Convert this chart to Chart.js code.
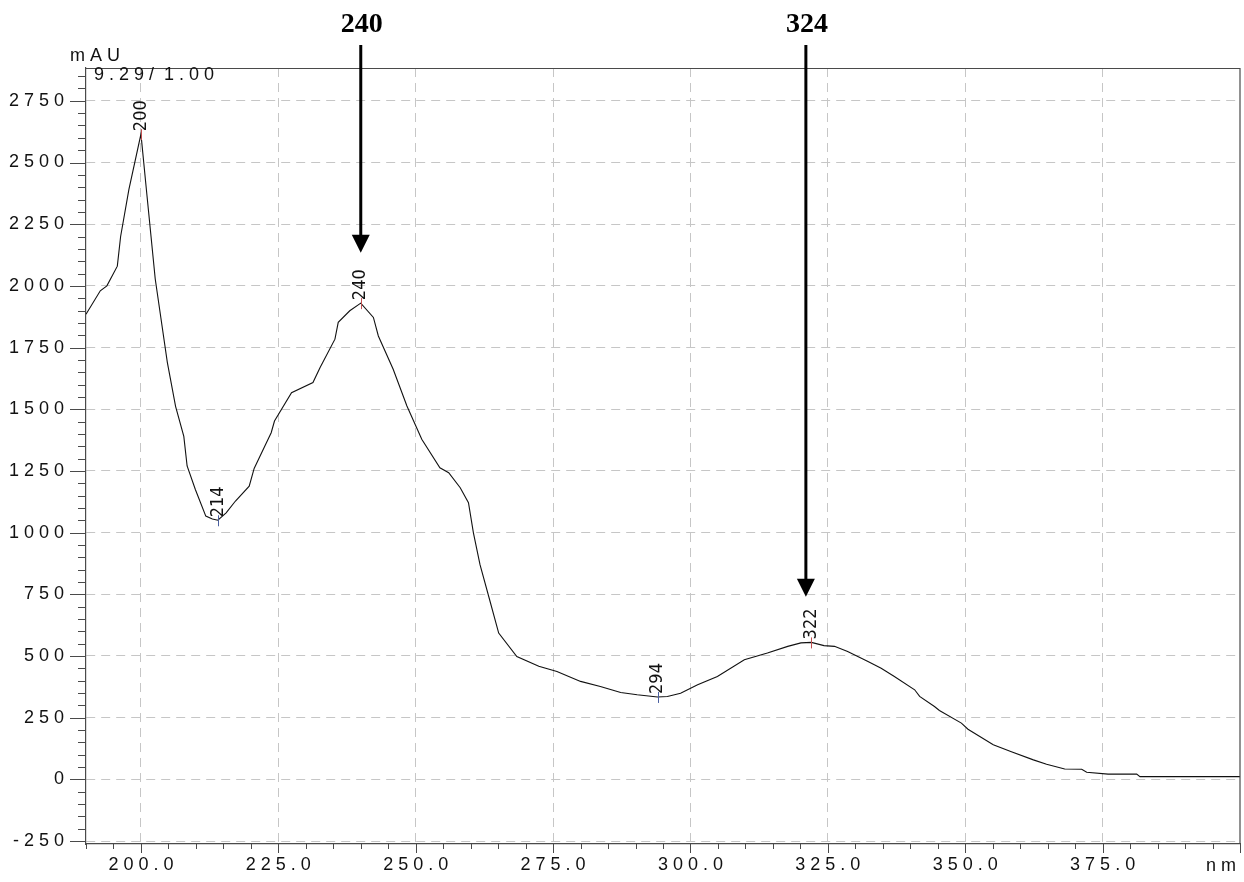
<!DOCTYPE html>
<html>
<head>
<meta charset="utf-8">
<script src="https://cdn.jsdelivr.net/npm/chart.js@4.4.1/dist/chart.umd.min.js"></script>
<style>
  html, body { margin: 0; padding: 0; background: #fff; }
  #wrap { width: 1244px; height: 882px; }
</style>
</head>
<body>
<div id="wrap"><canvas id="spectrum"></canvas></div>
<script>
// UV spectrum (nm / mAU)
var wavelengths = [190, 192.6, 193.8, 195.7, 196.3, 197.8, 200, 201.1, 202.6, 204.8, 206.3, 207.8, 208.4, 209.9,
  211.8, 213, 214, 215.5, 217.2, 219.7, 220.6, 222.7, 223.7, 224.3, 227.4, 231.3, 232.6, 235.3, 235.9, 238,
  240, 242.3, 243.2, 245.9, 248.4, 251.1, 254.4, 256, 258.1, 259.6, 260.5, 261.7, 263.3, 265.1, 268.4, 272.4,
  275.7, 280, 283.6, 287.3, 290.3, 294, 295.8, 298.2, 301.3, 304.9, 309.8, 314, 317.7, 320.1, 322, 324.3,
  326.2, 328.6, 332.3, 334.7, 337.1, 340.8, 341.7, 344.4, 345.3, 349.3, 350.5, 355.1, 358.4, 362.4, 364.8,
  368.1, 371.2, 372.1, 376, 381.2, 381.8, 400];
var absorbance = [1885, 1980, 2000, 2080, 2200, 2390, 2615, 2365, 2028, 1690, 1512, 1390, 1270, 1175,
  1067, 1055, 1050, 1080, 1128, 1188, 1260, 1358, 1405, 1452, 1567, 1608, 1669, 1784, 1852, 1899,
  1930, 1872, 1797, 1662, 1513, 1378, 1263, 1243, 1182, 1121, 999, 870, 740, 593, 498, 458,
  437, 397, 376, 352, 343, 334, 336, 349, 383, 417, 485, 512, 539, 553, 555, 542,
  539, 518, 478, 450, 417, 363, 336, 295, 279, 228, 203, 140, 112, 79, 61,
  42, 41, 29, 21, 21, 11, 11];

// peak / valley marks printed by the software
var markNm = [200, 214, 240, 294, 322];
var markKind = ['max', 'min', 'max', 'min', 'max'];

// arrows added on top of the print-out
var arrowNm = [240, 321];
var arrowLabels = ['240', '324'];
var arrowTips = [2134, 740];

var xMajor = [200, 225, 250, 275, 300, 325, 350, 375];
var yMajor = [-250, 0, 250, 500, 750, 1000, 1250, 1500, 1750, 2000, 2250, 2500, 2750];

function spaced(s) { return s.split('').join(' '); }

var points = wavelengths.map(function (w, i) { return { x: w, y: absorbance[i] }; });

var frameColor = '#4a4a4a';
var gridColor = '#c6c6c6';
var labelFont = '"Liberation Sans", Arial, sans-serif';

var decorations = {
  id: 'decorations',
  afterDatasetsDraw: function (chart) {
    var ctx = chart.ctx, a = chart.chartArea;
    var xs = chart.scales.x, ys = chart.scales.y;
    ctx.save();
    // frame top / right
    ctx.strokeStyle = frameColor;
    ctx.lineWidth = 1.2;
    ctx.beginPath();
    ctx.moveTo(a.left, a.top + 0.5);
    ctx.lineTo(a.right, a.top + 0.5);
    ctx.lineTo(a.right, a.bottom);
    ctx.stroke();

    // axis ticks (major + minor)
    ctx.lineWidth = 1;
    ctx.beginPath();
    for (var v = -250; v <= 2850; v += 50) {
      var py = Math.round(ys.getPixelForValue(v)) + 0.5;
      var len = (v % 250 === 0) ? 16 : 8;
      ctx.moveTo(a.left - len, py);
      ctx.lineTo(a.left, py);
    }
    for (var w = 190; w <= 400; w += 5) {
      var px = Math.round(xs.getPixelForValue(w)) + 0.5;
      var l = (w % 25 === 0) ? 9 : 5;
      ctx.moveTo(px, a.bottom);
      ctx.lineTo(px, a.bottom + l);
    }
    ctx.stroke();

    // header texts
    ctx.fillStyle = '#111';
    ctx.font = '18px ' + labelFont;
    ctx.textAlign = 'left';
    ctx.textBaseline = 'middle';
    ctx.fillText('m A U', 70, 56);
    ctx.fillText('9 . 2 9 /  1 . 0 0', 94, 75);
    ctx.textAlign = 'right';
    ctx.fillText('n m', a.right - 4, 866);

    // peak marks
    ctx.font = '18px "Liberation Sans Narrow", "DejaVu Sans Condensed", sans-serif';
    markNm.forEach(function (nm, i) {
      var idx = wavelengths.indexOf(nm);
      var px = xs.getPixelForValue(nm);
      var py = ys.getPixelForValue(absorbance[idx]);
      ctx.strokeStyle = markKind[i] === 'max' ? '#c05050' : '#4a5fa0';
      ctx.lineWidth = 1;
      ctx.beginPath();
      ctx.moveTo(Math.round(px) + 0.5, py - 5);
      ctx.lineTo(Math.round(px) + 0.5, py + 6);
      ctx.stroke();
      ctx.save();
      ctx.translate(px, py - 3);
      ctx.rotate(-Math.PI / 2);
      ctx.fillStyle = '#111';
      ctx.textAlign = 'left';
      ctx.textBaseline = 'middle';
      ctx.fillText(nm.toString(), 0, 0);
      ctx.restore();
    });

    // arrows
    ctx.fillStyle = '#000';
    ctx.strokeStyle = '#000';
    ctx.font = 'bold 28px "Liberation Serif", "Times New Roman", serif';
    ctx.textAlign = 'center';
    ctx.textBaseline = 'alphabetic';
    arrowNm.forEach(function (nm, i) {
      var px = xs.getPixelForValue(nm);
      var tip = ys.getPixelForValue(arrowTips[i]);
      ctx.fillText(arrowLabels[i], px + 1, 32);
      ctx.lineWidth = 3;
      ctx.beginPath();
      ctx.moveTo(px, 45);
      ctx.lineTo(px, tip - 14);
      ctx.stroke();
      ctx.beginPath();
      ctx.moveTo(px - 9, tip - 18);
      ctx.lineTo(px + 9, tip - 18);
      ctx.lineTo(px, tip);
      ctx.closePath();
      ctx.fill();
    });
    ctx.restore();
  }
};

new Chart(document.getElementById('spectrum'), {
  type: 'line',
  data: {
    datasets: [{
      data: points,
      borderColor: '#111',
      borderWidth: 1.1,
      pointRadius: 0,
      tension: 0,
      fill: false
    }]
  },
  options: {
    responsive: true,
    maintainAspectRatio: false,
    animation: false,
    devicePixelRatio: 1,
    layout: { padding: { top: 68, right: 4, left: 0, bottom: 0 } },
    plugins: {
      legend: { display: false },
      tooltip: { enabled: false }
    },
    scales: {
      x: {
        type: 'linear',
        min: 190,
        max: 400,
        afterBuildTicks: function (scale) {
          scale.ticks = xMajor.map(function (v) { return { value: v }; });
        },
        afterFit: function (scale) { scale.height = 38; },
        grid: { color: gridColor, lineWidth: 1, drawTicks: false },
        border: { display: true, color: frameColor, width: 1.2, dash: [9, 6] },
        ticks: {
          autoSkip: false,
          maxRotation: 0,
          padding: 10,
          color: '#111',
          font: { family: labelFont, size: 18 },
          callback: function (v) { return spaced(v.toFixed(1)); }
        }
      },
      y: {
        min: -262,
        max: 2883,
        afterBuildTicks: function (scale) {
          scale.ticks = yMajor.map(function (v) { return { value: v }; });
        },
        afterFit: function (scale) { scale.width = 86; },
        grid: { color: gridColor, lineWidth: 1, drawTicks: false },
        border: { display: true, color: frameColor, width: 1.2, dash: [9, 6] },
        ticks: {
          autoSkip: false,
          padding: 22,
          color: '#111',
          font: { family: labelFont, size: 18 },
          callback: function (v) { return spaced(String(v)); }
        }
      }
    }
  },
  plugins: [decorations]
});
</script>
</body>
</html>
